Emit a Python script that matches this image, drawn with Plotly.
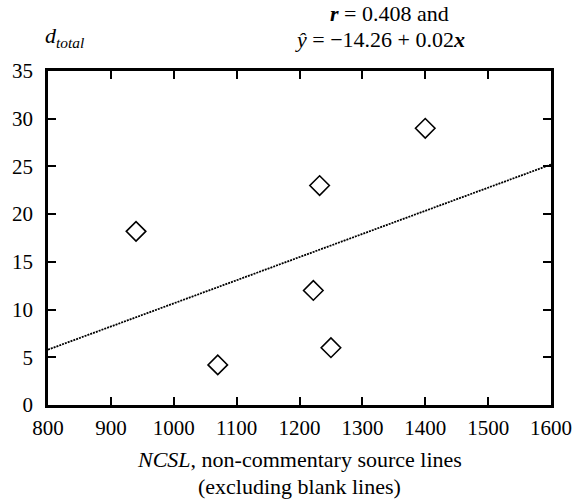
import plotly.graph_objects as go

# Data
ncsl = [940, 1070, 1222, 1232, 1250, 1400]
d_total = [18.2, 4.2, 12.0, 23.0, 6.0, 29.0]
line_x = [800, 1600]
line_y = [5.8, 25.2]
x_ticks = [800, 900, 1000, 1100, 1200, 1300, 1400, 1500, 1600]
y_ticks = [0, 5, 10, 15, 20, 25, 30, 35]

FONT = "Liberation Serif"

fig = go.Figure()
fig.add_trace(go.Scatter(
    x=line_x, y=line_y, mode="lines",
    line=dict(color="black", width=1.8, dash="2px,1px"),
    showlegend=False, hoverinfo="skip"))
fig.add_trace(go.Scatter(
    x=ncsl, y=d_total, mode="markers",
    marker=dict(symbol="diamond-open", size=15, color="black",
                line=dict(width=1.6, color="black")),
    showlegend=False))

axis_common = dict(
    showline=True, linewidth=2.5, linecolor="black", mirror="ticks",
    ticks="inside", ticklen=8, tickwidth=2, tickcolor="black",
    showgrid=False, zeroline=False,
    tickfont=dict(family=FONT, size=21, color="black"),
)

fig.update_xaxes(range=[800, 1600], tickvals=x_ticks,
                 ticktext=[str(v) for v in x_ticks], ticklabelstandoff=2,
                 **axis_common)
fig.update_yaxes(range=[0, 35], tickvals=y_ticks,
                 ticktext=[str(v) for v in y_ticks], ticklabelstandoff=8,
                 **axis_common)

fig.update_layout(
    width=584, height=504,
    margin=dict(l=44, r=27, t=71, b=99),
    plot_bgcolor="white", paper_bgcolor="white",
    font=dict(family=FONT, color="black"),
    annotations=[
        dict(text="<i>d</i><sub><i>total</i></sub>", xref="paper", yref="paper",
             x=-0.01, y=1.055, xanchor="left", yanchor="bottom",
             showarrow=False, font=dict(family=FONT, size=22)),
        dict(text="<b><i>r</i></b> = 0.408 and", xref="paper", yref="paper",
             x=0.678, y=1.128, xanchor="center", yanchor="bottom",
             showarrow=False, font=dict(family=FONT, size=22)),
        dict(text="<i>ŷ</i> = −14.26 + 0.02<b><i>x</i></b>", xref="paper", yref="paper",
             x=0.66, y=1.05, xanchor="center", yanchor="bottom",
             showarrow=False, font=dict(family=FONT, size=22)),
        dict(text="<i>NCSL</i>, non-commentary source lines", xref="paper", yref="paper",
             x=0.5, y=-0.12, xanchor="center", yanchor="top",
             showarrow=False, font=dict(family=FONT, size=22)),
        dict(text="(excluding blank lines)", xref="paper", yref="paper",
             x=0.5, y=-0.20, xanchor="center", yanchor="top",
             showarrow=False, font=dict(family=FONT, size=22)),
    ],
)

fig.write_html("out.html")
